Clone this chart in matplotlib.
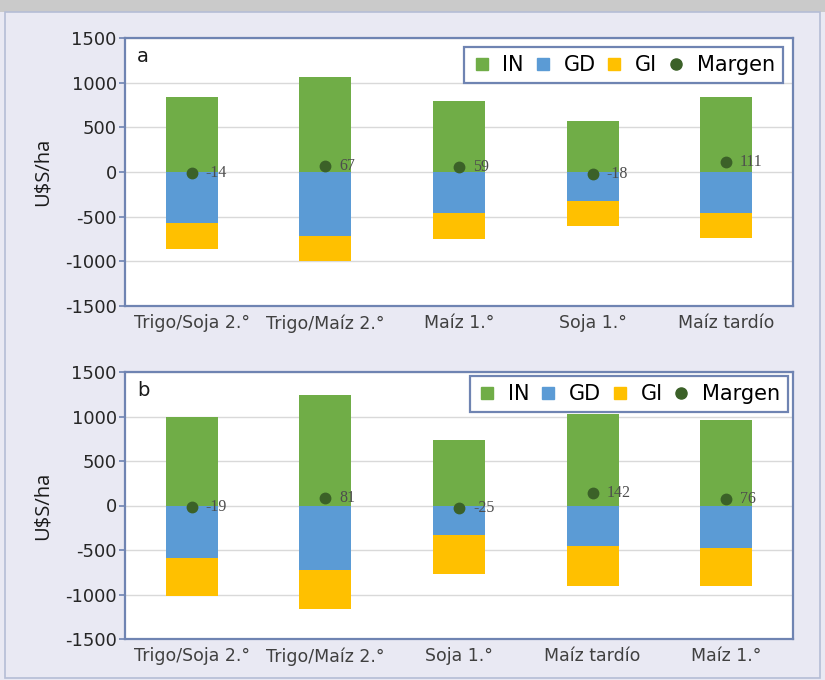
import matplotlib
matplotlib.use("Agg")
import matplotlib.pyplot as plt
from matplotlib.patches import Rectangle
from matplotlib.lines import Line2D
import numpy as np

# ---- data ----
cats_a = ["Trigo/Soja 2.°", "Trigo/Maíz 2.°", "Maíz 1.°", "Soja 1.°", "Maíz tardío"]
in_a = [835, 1060, 800, 570, 840]
gd_a = [-575, -718, -462, -326, -456]
gi_a = [-285, -282, -286, -280, -282]
margen_a = [-14, 67, 59, -18, 111]

cats_b = ["Trigo/Soja 2.°", "Trigo/Maíz 2.°", "Soja 1.°", "Maíz tardío", "Maíz 1.°"]
in_b = [990, 1240, 733, 1025, 965]
gd_b = [-585, -724, -327, -459, -474]
gi_b = [-434, -438, -438, -442, -435]
margen_b = [-19, 81, -25, 142, 76]

yticks = [-1500, -1000, -500, 0, 500, 1000, 1500]

C_IN = "#70AD47"
C_GD = "#5B9BD5"
C_GI = "#FFC000"
C_M = "#3B6128"
SPINE = "#6F84B2"
BG = "#E9E9F3"

plt.rcParams['font.family'] = ['DejaVu Sans']

fig = plt.figure(figsize=(8.25, 6.8), dpi=100)
fig.patch.set_facecolor(BG)
W, H = 825, 680

# top gray band and outer frame
fig.patches.append(Rectangle((0, 1 - 12 / H), 1, 12 / H, transform=fig.transFigure,
                             facecolor="#CACACA", edgecolor="none", zorder=0))
fig.patches.append(Rectangle((5 / W, 2 / H), 815 / W, (666) / H, transform=fig.transFigure,
                             facecolor="none", edgecolor="#B5BDD6", lw=1.2, zorder=0))


def panel(rect, cats, vin, vgd, vgi, vm, letter, leg_off):
    ax = fig.add_axes(rect)
    x = np.arange(len(cats))
    w = 0.39
    ax.set_axisbelow(True)
    ax.bar(x, vin, w, color=C_IN, zorder=2)
    ax.bar(x, vgd, w, color=C_GD, zorder=2)
    ax.bar(x, vgi, w, bottom=vgd, color=C_GI, zorder=2)
    ax.plot(x, vm, 'o', color=C_M, markersize=7.5, zorder=3, linestyle='none')
    for xi, m in zip(x, vm):
        ax.annotate(f"{m}", (xi, m), xytext=(10, 0), textcoords="offset points",
                    va="center", ha="left", fontsize=11.5, color="#4d4d4d",
                    family=["Liberation Serif", "DejaVu Serif"], zorder=4)
    ax.set_xlim(-0.5, len(cats) - 0.5)
    ax.set_ylim(-1500, 1500)
    ax.set_yticks(yticks)
    ax.set_yticklabels([str(t) for t in yticks])
    ax.set_xticks(x)
    ax.set_xticklabels(cats)
    ax.grid(axis='y', color="#D9D9D9", lw=1, zorder=0)
    for s in ax.spines.values():
        s.set_color(SPINE)
        s.set_linewidth(1.6)
    ax.tick_params(axis='y', length=4, width=1.2, color=SPINE, labelsize=13,
                   labelcolor="#262626", pad=2)
    ax.tick_params(axis='x', length=0, labelsize=12.5, labelcolor="#404040", pad=6)
    ax.set_ylabel("U$S/ha", fontsize=14.5, color="#1a1a1a", labelpad=4,
                  family=["Open Sans", "DejaVu Sans"])
    ax.yaxis.set_label_coords(-0.108, 0.5)
    ax.text(0.018, 0.93, letter, transform=ax.transAxes, fontsize=14, color="#1a1a1a",
            va="center", ha="left")
    handles = [
        Line2D([], [], marker='s', color=C_IN, linestyle='none', markersize=8),
        Line2D([], [], marker='s', color=C_GD, linestyle='none', markersize=8),
        Line2D([], [], marker='s', color=C_GI, linestyle='none', markersize=8),
        Line2D([], [], marker='o', color=C_M, linestyle='none', markersize=8),
    ]
    leg = ax.legend(handles, ["IN", "GD", "GI", "Margen"], ncol=4, loc="upper right",
                    bbox_to_anchor=leg_off, frameon=True, fancybox=False,
                    fontsize=15, handlelength=0.9, handletextpad=0.55,
                    columnspacing=0.45, borderpad=0.38, borderaxespad=0)
    fr = leg.get_frame()
    fr.set_edgecolor(SPINE)
    fr.set_linewidth(1.6)
    fr.set_facecolor("white")
    fr.set_alpha(1)
    leg.set_zorder(5)
    return ax


panel([125 / W, 1 - 306 / H, 668 / W, 268 / H], cats_a, in_a, gd_a, gi_a, margen_a, "a",
      (0.985, 0.965))
panel([125 / W, 1 - 639 / H, 668 / W, 267 / H], cats_b, in_b, gd_b, gi_b, margen_b, "b",
      (0.993, 0.985))

fig.savefig("out.png", dpi=100, facecolor=fig.get_facecolor())
